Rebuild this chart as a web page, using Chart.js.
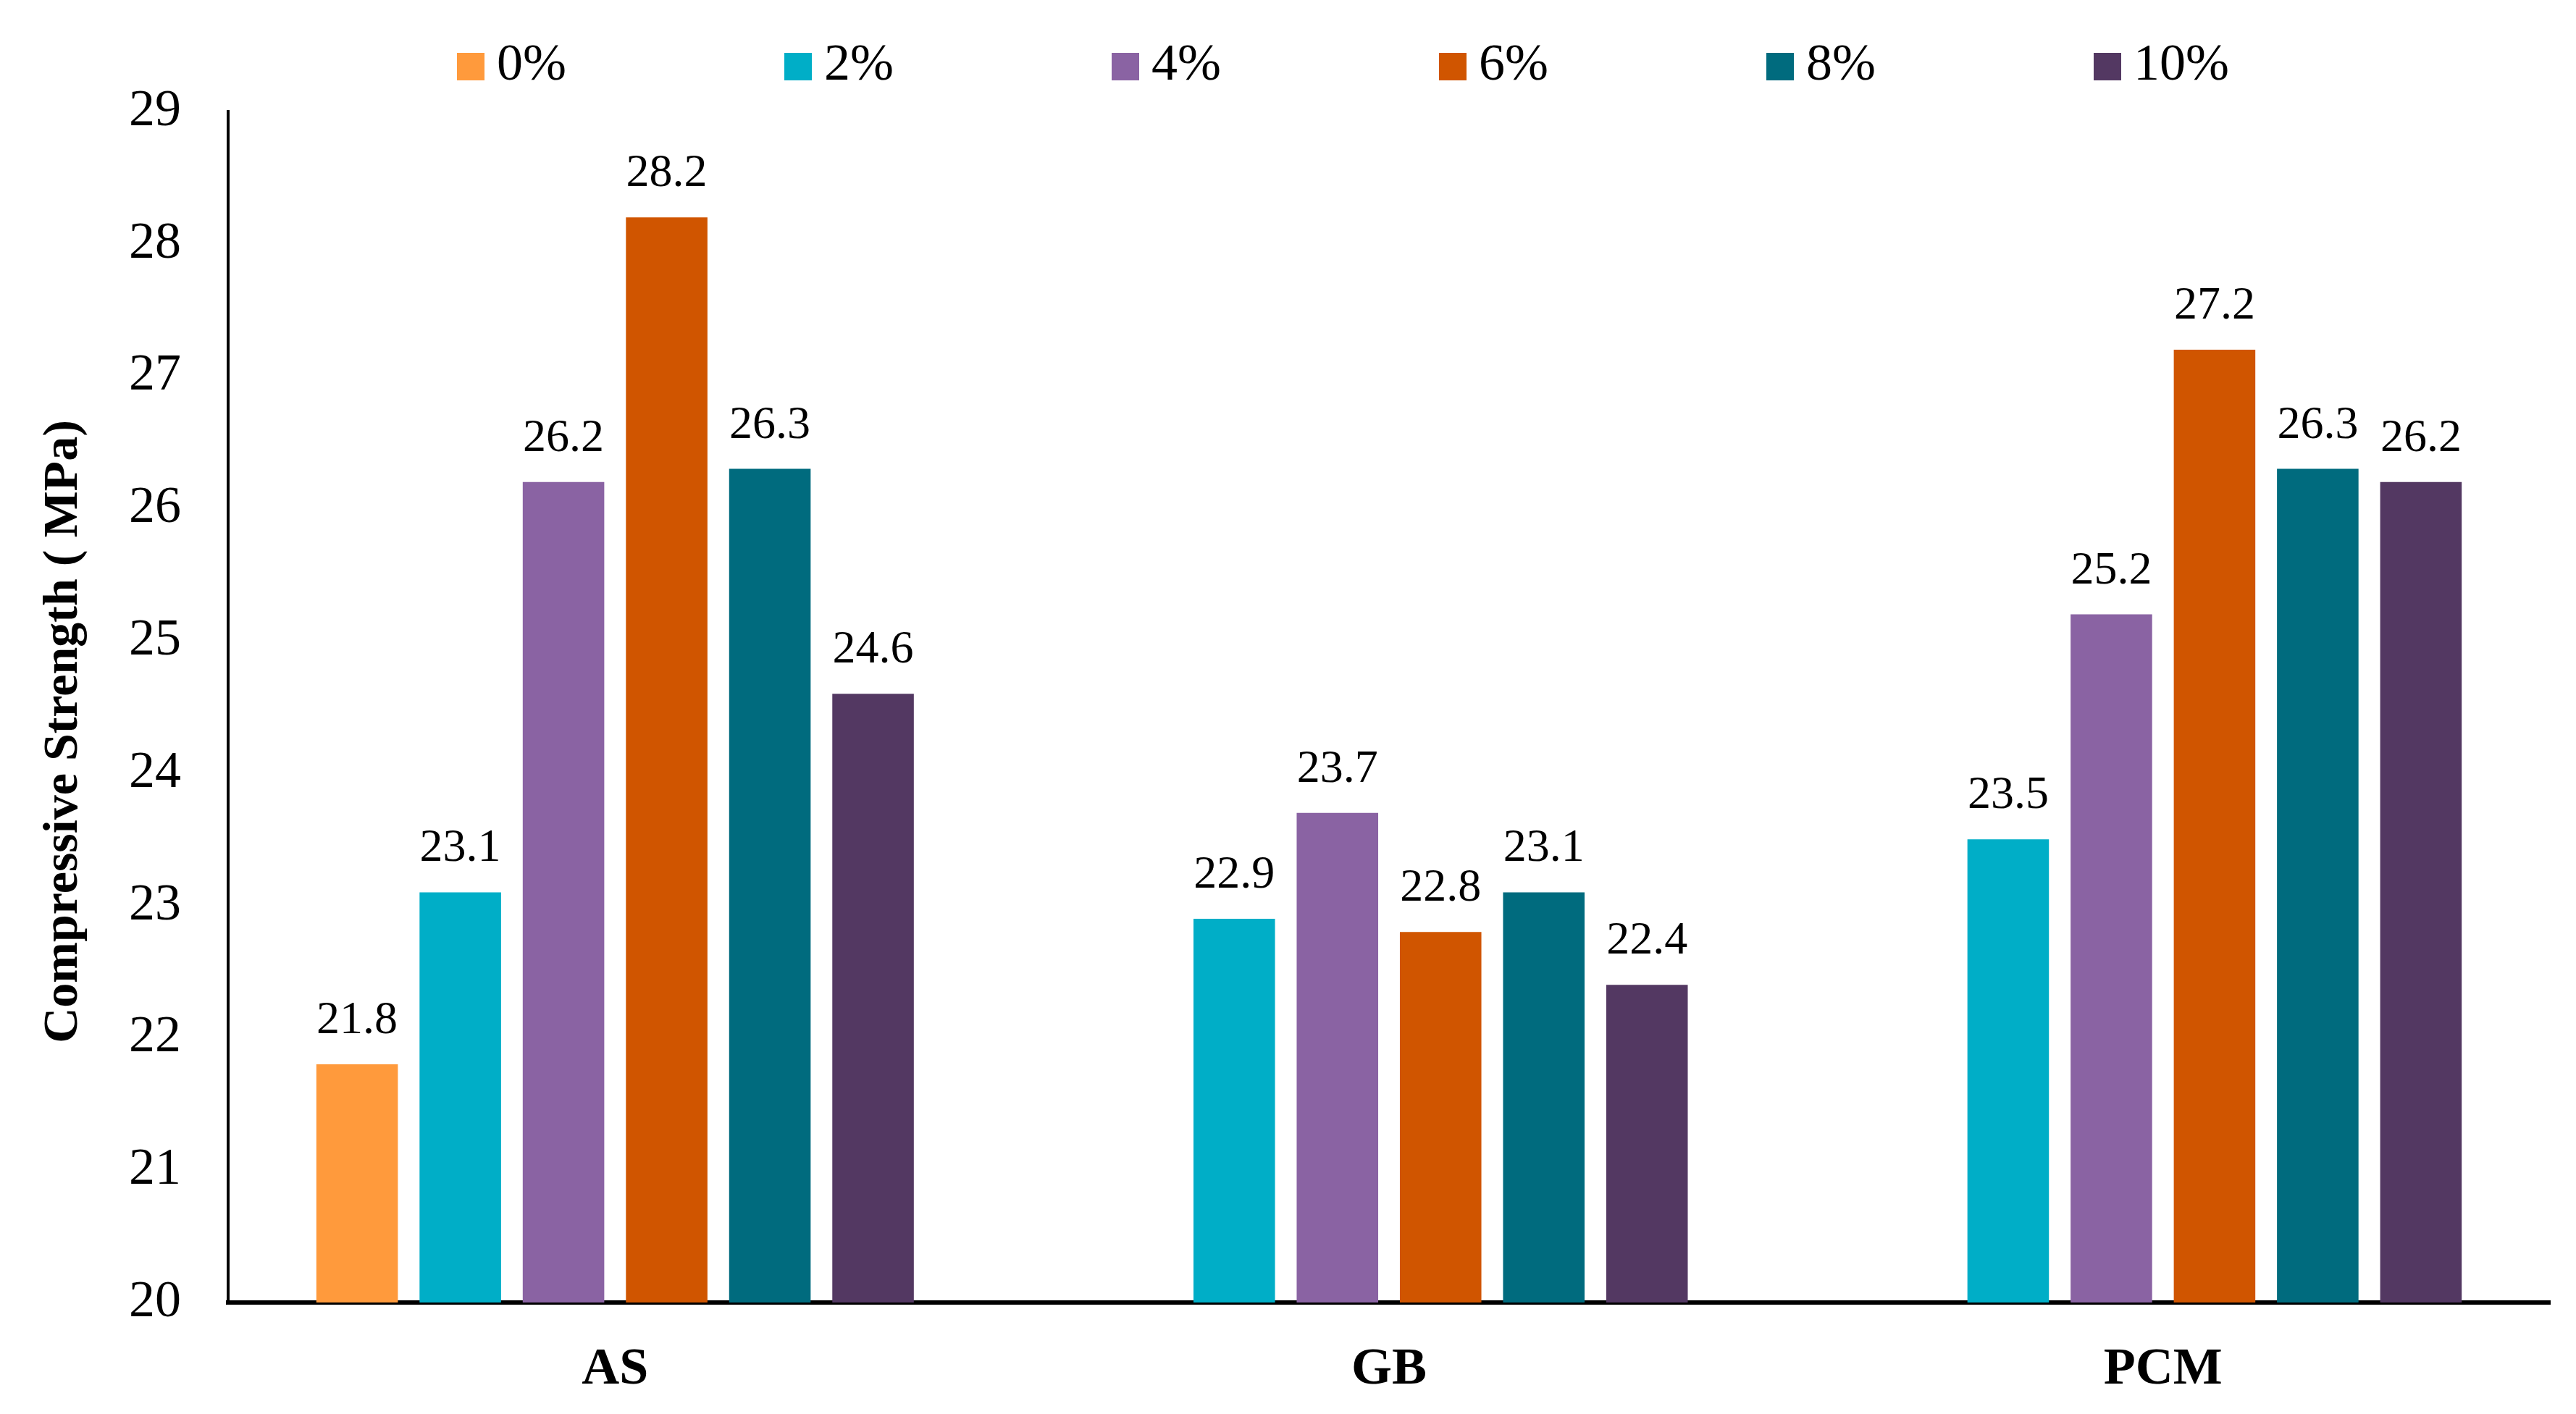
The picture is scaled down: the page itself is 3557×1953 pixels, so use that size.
<!DOCTYPE html>
<html>
<head>
<meta charset="utf-8">
<script src="https://cdn.jsdelivr.net/npm/chart.js@4.4.1/dist/chart.umd.min.js"></script>
<style>
  html, body { margin: 0; padding: 0; background: #ffffff; }
  #wrap { width: 3557px; height: 1953px; }
</style>
</head>
<body>
<div id="wrap"><canvas id="c" width="3557" height="1953"></canvas></div>
<script>
// ---- data ----
const categories = ['AS', 'GB', 'PCM'];
const seriesLabels = ['0%', '2%', '4%', '6%', '8%', '10%'];
const s0  = [21.8, null, null];
const s2  = [23.1, 22.9, 23.5];
const s4  = [26.2, 23.7, 25.2];
const s6  = [28.2, 22.8, 27.2];
const s8  = [26.3, 23.1, 26.3];
const s10 = [24.6, 22.4, 26.2];
const yMin = 20, yMax = 29, yStep = 1;
const yTitle = 'Compressive Strength ( MPa)';

const seriesValues = [s0, s2, s4, s6, s8, s10];
const seriesColors = ['#FF9A3C', '#00AEC7', '#8A63A3', '#D05500', '#006B7E', '#533862'];

const FONT = "'Liberation Serif', 'Times New Roman', serif";

// custom legend (evenly spaced items, as in the reference)
const legendPlugin = {
  id: 'evenLegend',
  afterDraw(chart, args, opts) {
    const ctx = chart.ctx;
    ctx.save();
    ctx.font = opts.fontSize + 'px ' + FONT;
    ctx.textBaseline = 'middle';
    ctx.textAlign = 'left';
    chart.data.datasets.forEach((ds, i) => {
      const x = opts.startX + i * opts.spacing;
      ctx.fillStyle = ds.backgroundColor;
      ctx.fillRect(x, opts.centerY - opts.box / 2, opts.box, opts.box);
      ctx.fillStyle = '#000';
      ctx.fillText(ds.label, x + opts.box + opts.gap, opts.centerY - 1);
    });
    ctx.restore();
  }
};

// value labels above bars
const valueLabelPlugin = {
  id: 'valueLabels',
  afterDatasetsDraw(chart, args, opts) {
    const ctx = chart.ctx;
    ctx.save();
    ctx.font = opts.fontSize + 'px ' + FONT;
    ctx.fillStyle = '#000';
    ctx.textAlign = 'center';
    ctx.textBaseline = 'alphabetic';
    chart.data.datasets.forEach((ds, di) => {
      const meta = chart.getDatasetMeta(di);
      meta.data.forEach((el, i) => {
        const v = ds.data[i];
        if (v === null || v === undefined) return;
        ctx.fillText(v.toFixed(1), el.x, el.y - opts.offset);
      });
    });
    ctx.restore();
  }
};

new Chart(document.getElementById('c'), {
  type: 'bar',
  data: {
    labels: categories,
    datasets: seriesLabels.map((lab, i) => ({
      label: lab,
      data: seriesValues[i],
      backgroundColor: seriesColors[i],
      borderWidth: 0,
      categoryPercentage: 0.8,
      barPercentage: 0.79
    }))
  },
  options: {
    responsive: false,
    animation: false,
    layout: { padding: { left: 0, right: 36, top: 154, bottom: 24 } },
    plugins: {
      legend: { display: false },
      tooltip: { enabled: false },
      evenLegend: { startX: 631, spacing: 452, centerY: 92, box: 38, gap: 17, fontSize: 72 },
      valueLabels: { fontSize: 64, offset: 43 }
    },
    scales: {
      x: {
        grid: { display: false, drawTicks: false },
        border: { display: true, color: '#000', width: 6 },
        ticks: {
          color: '#000',
          padding: 50,
          font: { family: FONT, size: 72, weight: 'bold' }
        },
        afterFit(scale) { scale.height = 130; }
      },
      y: {
        min: yMin,
        max: yMax,
        grid: { display: false, drawTicks: false },
        border: { display: true, color: '#000', width: 4 },
        ticks: {
          stepSize: yStep,
          color: '#000',
          padding: 65,
          font: { family: FONT, size: 72 }
        },
        title: {
          display: true,
          text: yTitle + '    ',
          color: '#000',
          padding: { top: 48, bottom: 10 },
          font: { family: FONT, size: 68, weight: 'bold' }
        },
        afterFit(scale) { scale.width = 315; }
      }
    }
  },
  plugins: [legendPlugin, valueLabelPlugin]
});
</script>
</body>
</html>
